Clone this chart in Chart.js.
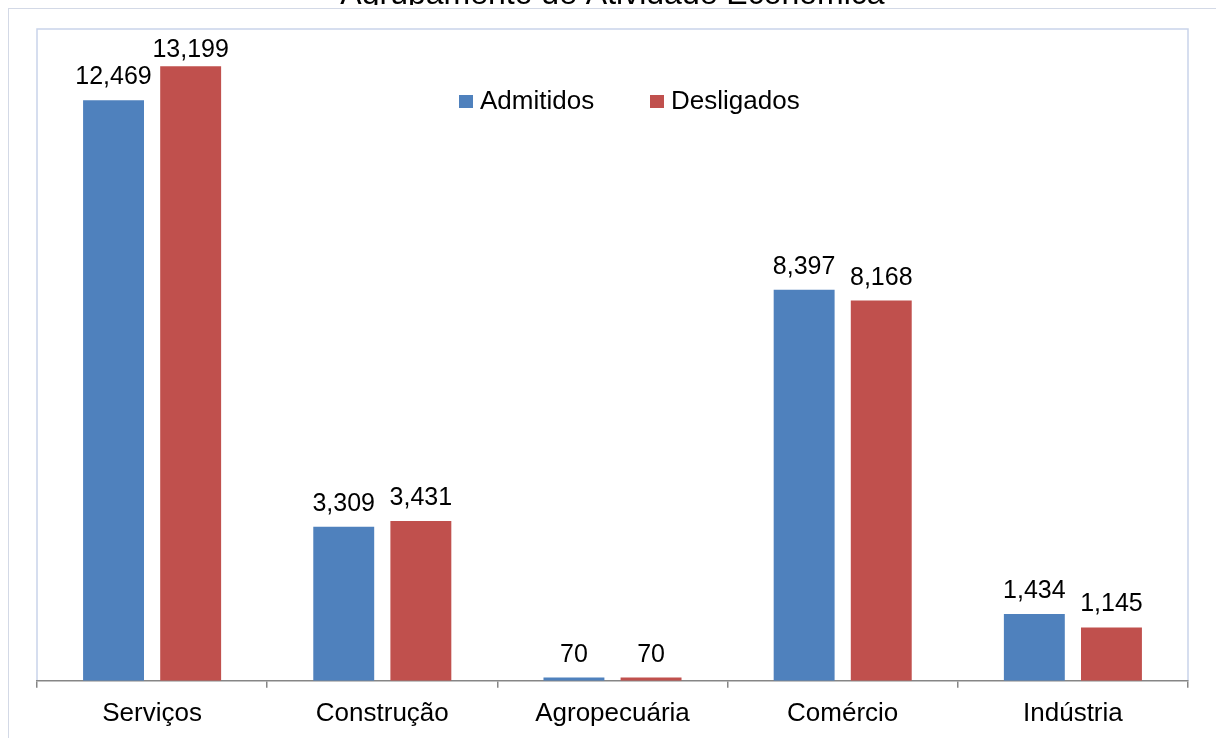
<!DOCTYPE html>
<html>
<head>
<meta charset="utf-8">
<script src="https://cdn.jsdelivr.net/npm/chart.js@4.4.0/dist/chart.umd.min.js"></script>
<style>
  html, body { margin: 0; padding: 0; background: #fff; overflow: hidden; }
  body { width: 1216px; height: 738px; position: relative; }
  #frame { position: absolute; left: 8px; top: 8px; width: 1300px; height: 900px; border: 1px solid #d3d9e6; z-index: 2; pointer-events: none; }
  #wrap { position: absolute; left: 0; top: -32px; width: 1216px; height: 776px; z-index: 1; }
</style>
</head>
<body>
<div id="frame"></div>
<div id="wrap"><canvas id="chartCanvas"></canvas></div>
<script>
// --- data ---
const categories = ["Serviços", "Construção", "Agropecuária", "Comércio", "Indústria"];
const admitidos = [12469, 3309, 70, 8397, 1434];
const desligados = [13199, 3431, 70, 8168, 1145];
const seriesNames = ["Admitidos", "Desligados"];
const chartTitle = "Agrupamento de Atividade Econômica";

const FONT = "'Liberation Sans', Arial, sans-serif";
const BLUE = "#4F81BD";
const RED = "#C0504D";

// plot frame drawn round the chart area
const plotFrame = {
  id: "plotFrame",
  beforeDraw(chart) {
    const { ctx, chartArea: a } = chart;
    ctx.save();
    ctx.strokeStyle = "#c9d4ea";
    ctx.lineWidth = 1.5;
    ctx.beginPath();
    ctx.moveTo(a.left, a.bottom);
    ctx.lineTo(a.left, a.top);
    ctx.lineTo(a.right, a.top);
    ctx.lineTo(a.right, a.bottom);
    ctx.stroke();
    ctx.restore();
  },
  // the title's descenders are hidden under the outer chart box
  afterDraw(chart) {
    const { ctx } = chart;
    ctx.save();
    ctx.fillStyle = "#fff";
    ctx.fillRect(0, 37, chart.width, 8);
    ctx.restore();
  }
};

// value labels above each bar
const valueLabels = {
  id: "valueLabels",
  afterDatasetsDraw(chart) {
    const { ctx, chartArea } = chart;
    ctx.save();
    ctx.font = "25px " + FONT;
    ctx.fillStyle = "#000";
    ctx.textAlign = "center";
    ctx.textBaseline = "alphabetic";
    chart.data.datasets.forEach((ds, i) => {
      chart.getDatasetMeta(i).data.forEach((bar, j) => {
        const y = Math.max(bar.y - 16, chartArea.top + 28);
        ctx.fillText(ds.data[j].toLocaleString("en-US"), bar.x, y);
      });
    });
    ctx.restore();
  }
};

// legend sitting inside the plot
const innerLegend = {
  id: "innerLegend",
  afterDraw(chart) {
    const { ctx } = chart;
    const xs = [459, 650];
    ctx.save();
    ctx.font = "26px " + FONT;
    ctx.textBaseline = "alphabetic";
    chart.data.datasets.forEach((ds, i) => {
      ctx.fillStyle = ds.backgroundColor;
      ctx.fillRect(xs[i], 127, 14, 13);
      ctx.fillStyle = "#000";
      ctx.fillText(ds.label, xs[i] + 21, 141);
    });
    ctx.restore();
  }
};

new Chart(document.getElementById("chartCanvas"), {
  type: "bar",
  data: {
    labels: categories,
    datasets: [
      { label: seriesNames[0], data: admitidos, backgroundColor: BLUE },
      { label: seriesNames[1], data: desligados, backgroundColor: RED }
    ]
  },
  options: {
    responsive: true,
    maintainAspectRatio: false,
    animation: false,
    datasets: { bar: { categoryPercentage: 0.67, barPercentage: 0.79 } },
    layout: { padding: { left: 37, right: 28, top: 0, bottom: 5 } },
    plugins: {
      legend: { display: false },
      tooltip: { enabled: false },
      title: {
        display: true,
        text: chartTitle,
        color: "#000",
        font: { family: FONT, size: 32, weight: "normal" },
        padding: { top: 8, bottom: 14.6 }
      }
    },
    scales: {
      x: {
        grid: { drawOnChartArea: false, color: "#868686", tickLength: 7, lineWidth: 1.5 },
        border: { color: "#868686", width: 1.5 },
        ticks: { color: "#000", font: { family: FONT, size: 26 }, maxRotation: 0, padding: 10 }
      },
      y: { display: false, min: 0, max: 14000 }
    }
  },
  plugins: [plotFrame, valueLabels, innerLegend]
});
</script>
</body>
</html>
